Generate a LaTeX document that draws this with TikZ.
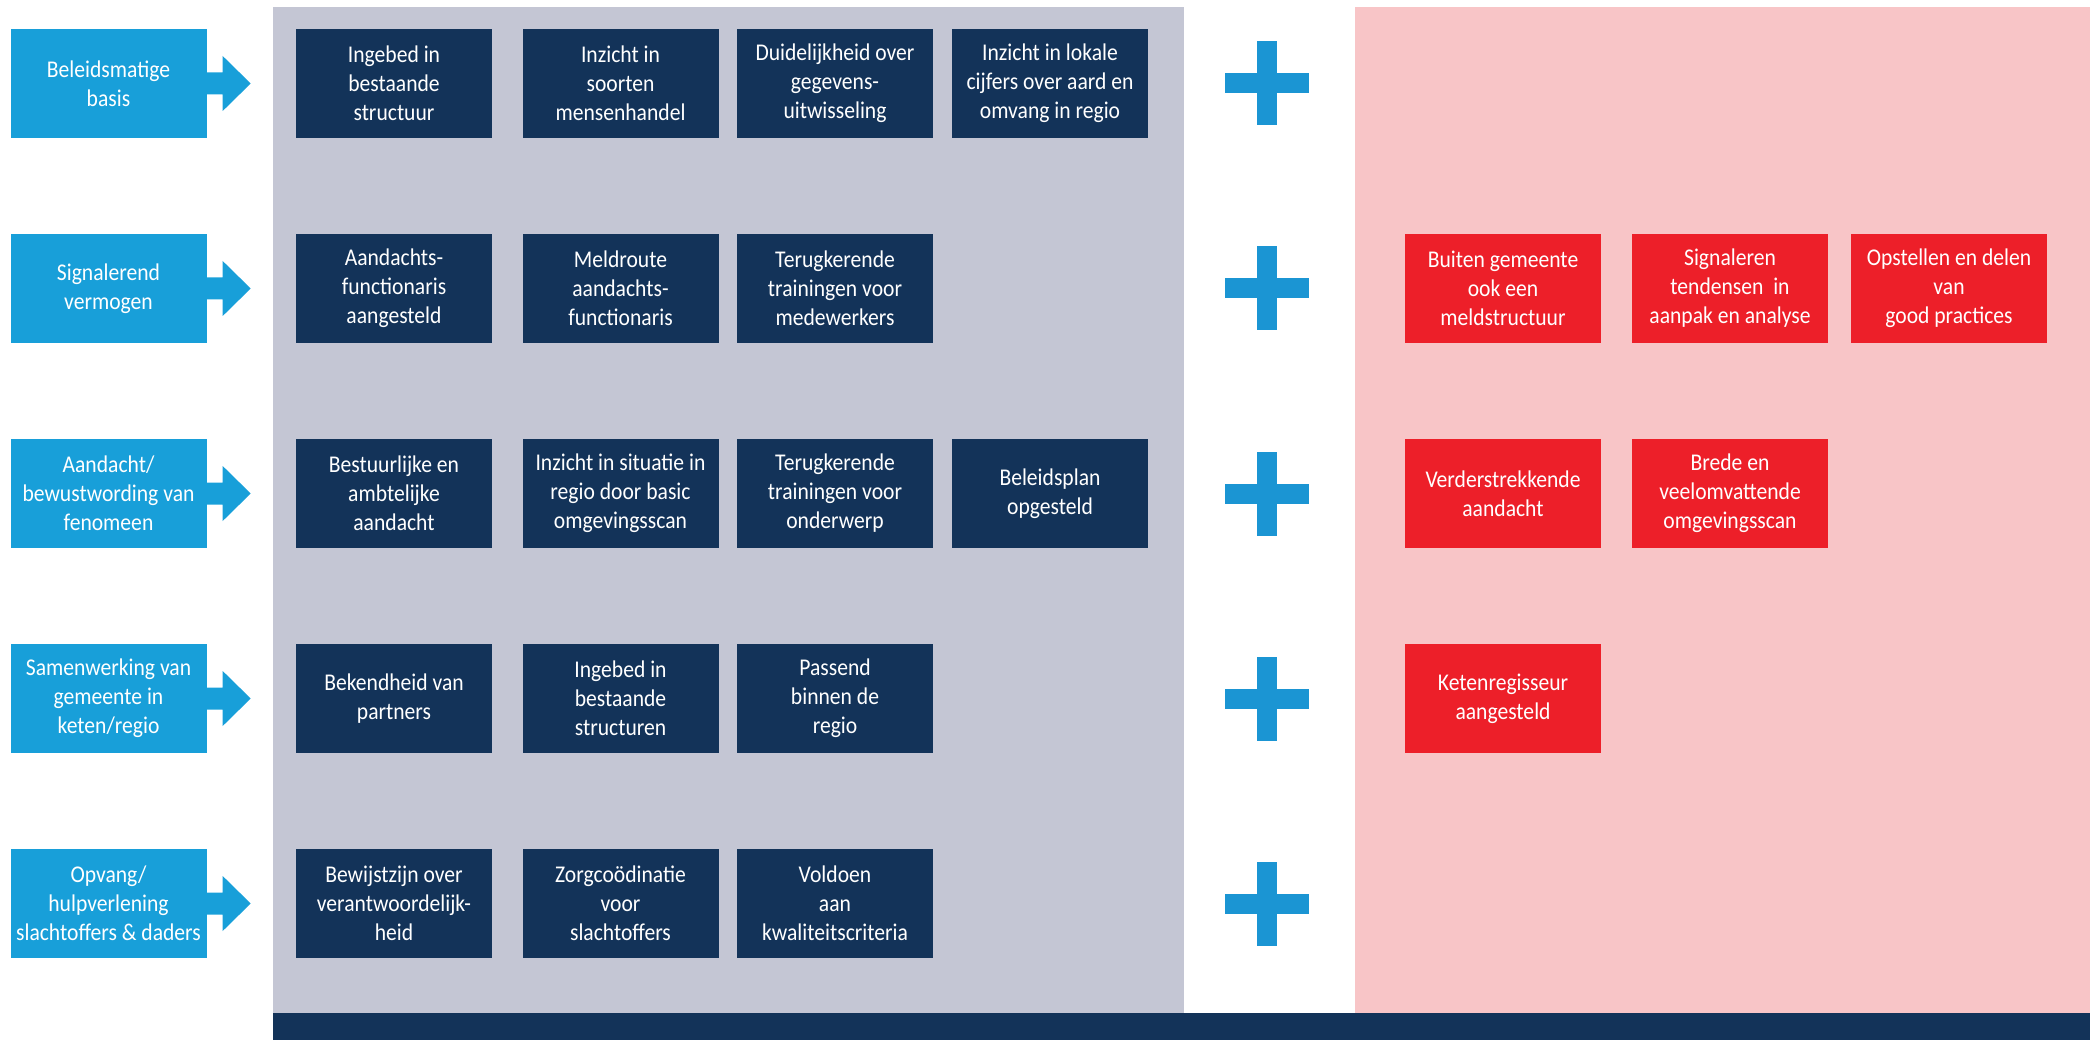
\documentclass[tikz,border=0pt]{standalone}
\usepackage{fontspec}
\setmainfont{Carlito}[FakeStretch=0.9]
\usetikzlibrary{calc}
\definecolor{lblue}{HTML}{189FD9}
\definecolor{navy}{HTML}{133359}
\definecolor{rred}{HTML}{ED1F29}
\definecolor{pinkbg}{HTML}{F8C5C7}
\definecolor{graybg}{HTML}{C4C6D4}
\definecolor{plusblue}{HTML}{1B95D3}
\tikzset{
  boxbase/.style={rectangle, minimum width=196pt, minimum height=109pt, inner sep=0pt,
    text=white, align=center, font=\fontsize{24}{29}\selectfont},
  bluebox/.style={boxbase, fill=lblue},
  darkbox/.style={boxbase, fill=navy},
  redbox/.style={boxbase, fill=rred},
}
\begin{document}
\begin{tikzpicture}[x=1pt,y=-1pt]
\useasboundingbox (0,0) rectangle (2090,1040);
% panels
\fill[graybg] (273,7) rectangle (1184,1013);
\fill[pinkbg] (1355,7) rectangle (2090,1013);
\fill[navy] (273,1013) rectangle (2090,1040);
% plus signs
\foreach \r/\y in {1/83.5,2/288.5,3/493.5,4/698.5,5/903.5}{
  \coordinate (pc\r) at (1267,\y);
  \fill[plusblue] ($(pc\r)+(-42,-10)$) rectangle ($(pc\r)+(42,10)$);
  \fill[plusblue] ($(pc\r)+(-10,-42)$) rectangle ($(pc\r)+(10,42)$);
}
% blue boxes
\node[bluebox] (b1) at (108.5,83.5) {Beleidsmatige\\basis};
\node[bluebox] (b2) at (108.5,288.5) {Signalerend\\vermogen};
\node[bluebox] (b3) at (108.5,493.5) {Aandacht/\\bewustwording van\\fenomeen};
\node[bluebox] (b4) at (108.5,698.5) {Samenwerking van\\gemeente in\\keten/regio};
\node[bluebox] (b5) at (108.5,903.5) {Opvang/\\hulpverlening\\slachtoffers \& daders};
\foreach \n in {b1,b2,b3,b4,b5}{
  \fill[lblue] (\n.east) ++(-1,-11) -- ++(17,0) -- ++(0,-16.5) -- ++(28,27.5) -- ++(-28,27.5) -- ++(0,-16.5) -- ++(-17,0) -- cycle;
}
% row 1
\node[darkbox] (d11) at (394,83.5) {Ingebed in\\bestaande\\structuur};
\node[darkbox] (d12) at (620.5,83.5) {Inzicht in\\soorten\\mensenhandel};
\node[darkbox] (d13) at (835,83.5) {Duidelijkheid over\\gegevens-\\uitwisseling};
\node[darkbox] (d14) at (1050,83.5) {Inzicht in lokale\\cijfers over aard en\\omvang in regio};
% row 2
\node[darkbox] (d21) at (394,288.5) {Aandachts-\\functionaris\\aangesteld};
\node[darkbox] (d22) at (620.5,288.5) {Meldroute\\aandachts-\\functionaris};
\node[darkbox] (d23) at (835,288.5) {Terugkerende\\trainingen voor\\medewerkers};
\node[redbox] (r21) at (1503,288.5) {Buiten gemeente\\ook een\\meldstructuur};
\node[redbox] (r22) at (1730,288.5) {Signaleren\\tendensen\ \ in\\aanpak en analyse};
\node[redbox] (r23) at (1949,288.5) {Opstellen en delen\\van\\good practices};
% row 3
\node[darkbox] (d31) at (394,493.5) {Bestuurlijke en\\ambtelijke\\aandacht};
\node[darkbox] (d32) at (620.5,493.5) {Inzicht in situatie in\\regio door basic\\omgevingsscan};
\node[darkbox] (d33) at (835,493.5) {Terugkerende\\trainingen voor\\onderwerp};
\node[darkbox] (d34) at (1050,493.5) {Beleidsplan\\opgesteld};
\node[redbox] (r31) at (1503,493.5) {Verderstrekkende\\aandacht};
\node[redbox] (r32) at (1730,493.5) {Brede en\\veelomvattende\\omgevingsscan};
% row 4
\node[darkbox] (d41) at (394,698.5) {Bekendheid van\\partners};
\node[darkbox] (d42) at (620.5,698.5) {Ingebed in\\bestaande\\structuren};
\node[darkbox] (d43) at (835,698.5) {Passend\\binnen de\\regio};
\node[redbox] (r41) at (1503,698.5) {Ketenregisseur\\aangesteld};
% row 5
\node[darkbox] (d51) at (394,903.5) {Bewijstzijn over\\verantwoordelijk-\\heid};
\node[darkbox] (d52) at (620.5,903.5) {Zorgcoödinatie\\voor\\slachtoffers};
\node[darkbox] (d53) at (835,903.5) {Voldoen\\aan\\kwaliteitscriteria};
\end{tikzpicture}
\end{document}
